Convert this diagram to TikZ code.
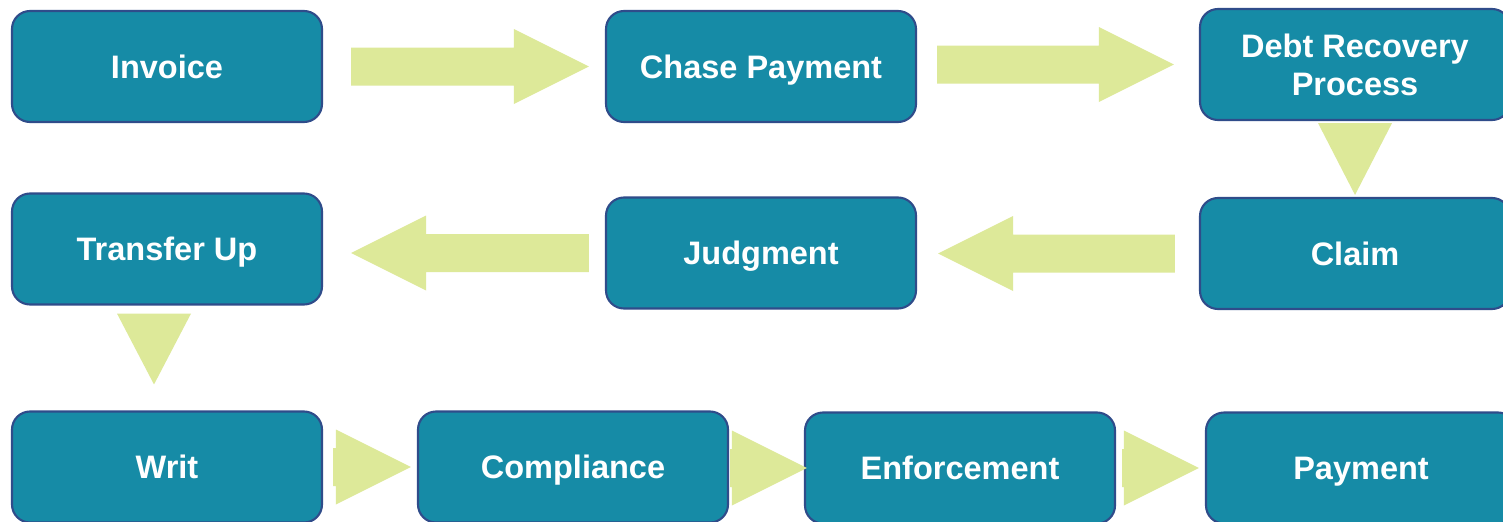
\documentclass[tikz,border=0pt]{standalone}
\usepackage{fontspec}
\setmainfont{Liberation Sans}
\usepackage{tikz}
\usetikzlibrary{calc}
\definecolor{stageteal}{HTML}{168BA6}
\definecolor{stageline}{HTML}{2F4C8A}
\definecolor{barlime}{HTML}{DDE999}
\tikzset{
  stage/.style={rounded corners=0.36cm, draw=stageline, line width=1.2pt,
                fill=stageteal, text=white, align=center, inner sep=0pt,
                minimum width=6.2cm, minimum height=2.22cm,
                text height=13.3pt, text depth=0pt,
                font=\fontsize{18.5}{21.6}\selectfont\bfseries},
  % block arrows: shaft from the start point, tip on the target point
  rbar/.style={to path={let \p1=(\tikztostart), \p2=(\tikztotarget) in
    (\x1,\y2+0.38cm) -- (\x2-1.5cm,\y2+0.38cm) -- (\x2-1.5cm,\y2+0.75cm)
    -- (\x2,\y2) -- (\x2-1.5cm,\y2-0.75cm) -- (\x2-1.5cm,\y2-0.38cm)
    -- (\x1,\y2-0.38cm) -- cycle}},
  lbar/.style={to path={let \p1=(\tikztostart), \p2=(\tikztotarget) in
    (\x1,\y1+0.38cm) -- (\x2+1.5cm,\y1+0.38cm) -- (\x2+1.5cm,\y1+0.75cm)
    -- (\x2,\y1) -- (\x2+1.5cm,\y1-0.75cm) -- (\x2+1.5cm,\y1-0.38cm)
    -- (\x1,\y1-0.38cm) -- cycle}},
  dbar/.style={to path={let \p1=(\tikztostart), \p2=(\tikztotarget) in
    (\x2-0.74cm,\y1) -- (\x2,\y2) -- (\x2+0.74cm,\y1) -- cycle}},
}

\begin{document}
\begin{tikzpicture}
\useasboundingbox[fill=white] (0,0) rectangle (30.06,-10.42);
\clip (0,0) rectangle (30.06,-10.42);

% top row
\node[stage] at (3.34,-1.33)  (inv)   {Invoice};
\node[stage] at (15.22,-1.33) (chase) {Chase Payment};
\node[stage, text height=, text depth=] at (27.10,-1.29) (debt)
  {Debt Recovery\\Process};
% middle row
\node[stage] at (3.34,-4.98)  (xfer)  {Transfer Up};
\node[stage] at (15.22,-5.06) (judg)  {Judgment};
\node[stage] at (27.10,-5.07) (claim) {Claim};
% bottom row
\node[stage] at (3.34,-9.34)  (writ)  {Writ};
\node[stage] at (11.46,-9.34) (compl) {Compliance};
\node[stage] at (19.20,-9.36) (enf)   {Enforcement};
\node[stage] at (27.22,-9.36) (pay)   {Payment};

\fill[barlime] ([xshift=0.56cm]inv.east) to[rbar] ([xshift=-0.32cm]chase.west);
\fill[barlime] ([xshift=0.40cm]chase.east) to[rbar] ([xshift=-0.50cm]debt.west);
\fill[barlime] ([yshift=-0.04cm]debt.south) to[dbar] ([yshift=0.04cm]claim.north);
\fill[barlime] ([xshift=-0.48cm]claim.west) to[lbar] ([xshift=0.42cm]judg.east);
\fill[barlime] ([xshift=-0.32cm]judg.west) to[lbar] ([xshift=0.56cm]xfer.east);
\fill[barlime] ([xshift=-0.26cm,yshift=-0.16cm]xfer.south)
  to[dbar] ([xshift=-0.26cm,yshift=0.52cm]writ.north);

\foreach \a/\b/\s/\t in {writ/compl/0.20/-0.12, compl/enf/0.02/0.06,
                         enf/pay/0.12/-0.12}{
  \fill[barlime] ([xshift=\s cm]\a.east) to[rbar] ([xshift=\t cm]\b.west);}
\end{tikzpicture}
\end{document}
